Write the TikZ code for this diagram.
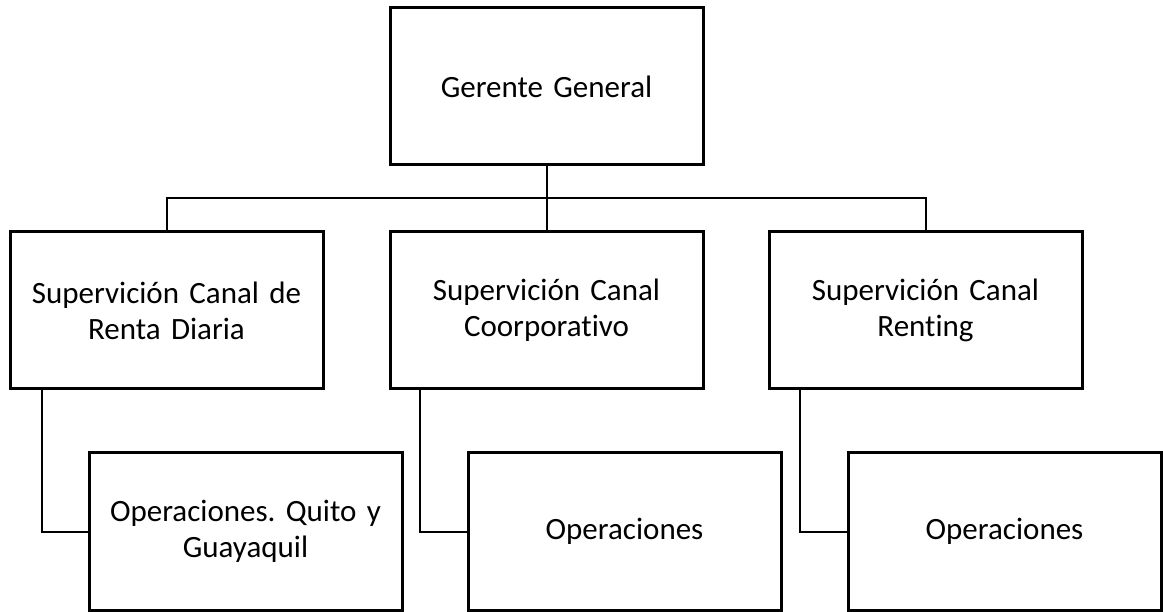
\documentclass[tikz,border=0pt]{standalone}
\usepackage{fontspec}
\setmainfont{Carlito}[Ligatures={NoCommon}]
\usepackage{tikz}
\usetikzlibrary{positioning}
\tikzstyle{block} = [rectangle, draw, line width=3pt, outer sep=0pt,
    minimum width=313pt, minimum height=157pt, inner sep=0pt,
    text width=300pt, align=center, font=\fontsize{31}{36}\selectfont]
\tikzstyle{line} = [draw, line width=2pt]
\frenchspacing
\begin{document}
\begin{tikzpicture}[x=1pt, y=1pt]
  \useasboundingbox (0,0) rectangle (1163,-612);
  \node [block] (gg) at (546.5,-86.5) {Gerente General};
  \node [block, below=67pt of gg] (cc) {Supervición Canal\\Coorporativo};
  \node [block, left=67pt of cc] (rd) {Supervición Canal de\\Renta Diaria};
  \node [block, right=66pt of cc] (rt) {Supervición Canal\\Renting};
  \node [block, below=64pt of rd, xshift=79pt] (oq) {Operaciones. Quito y\\Guayaquil};
  \node [block, below=64pt of cc, xshift=78pt] (oc) {Operaciones};
  \node [block, below=64pt of rt, xshift=79pt] (or) {Operaciones};

  \path [line] (gg.south) -- (cc.north);
  \path [line] (rd.north) -- ++(0,34) -| (rt.north);

  \path [line] ([xshift=32pt]rd.south west) |- (oq.west);
  \path [line] ([xshift=30pt]cc.south west) |- (oc.west);
  \path [line] ([xshift=31pt]rt.south west) |- (or.west);
\end{tikzpicture}
\end{document}
